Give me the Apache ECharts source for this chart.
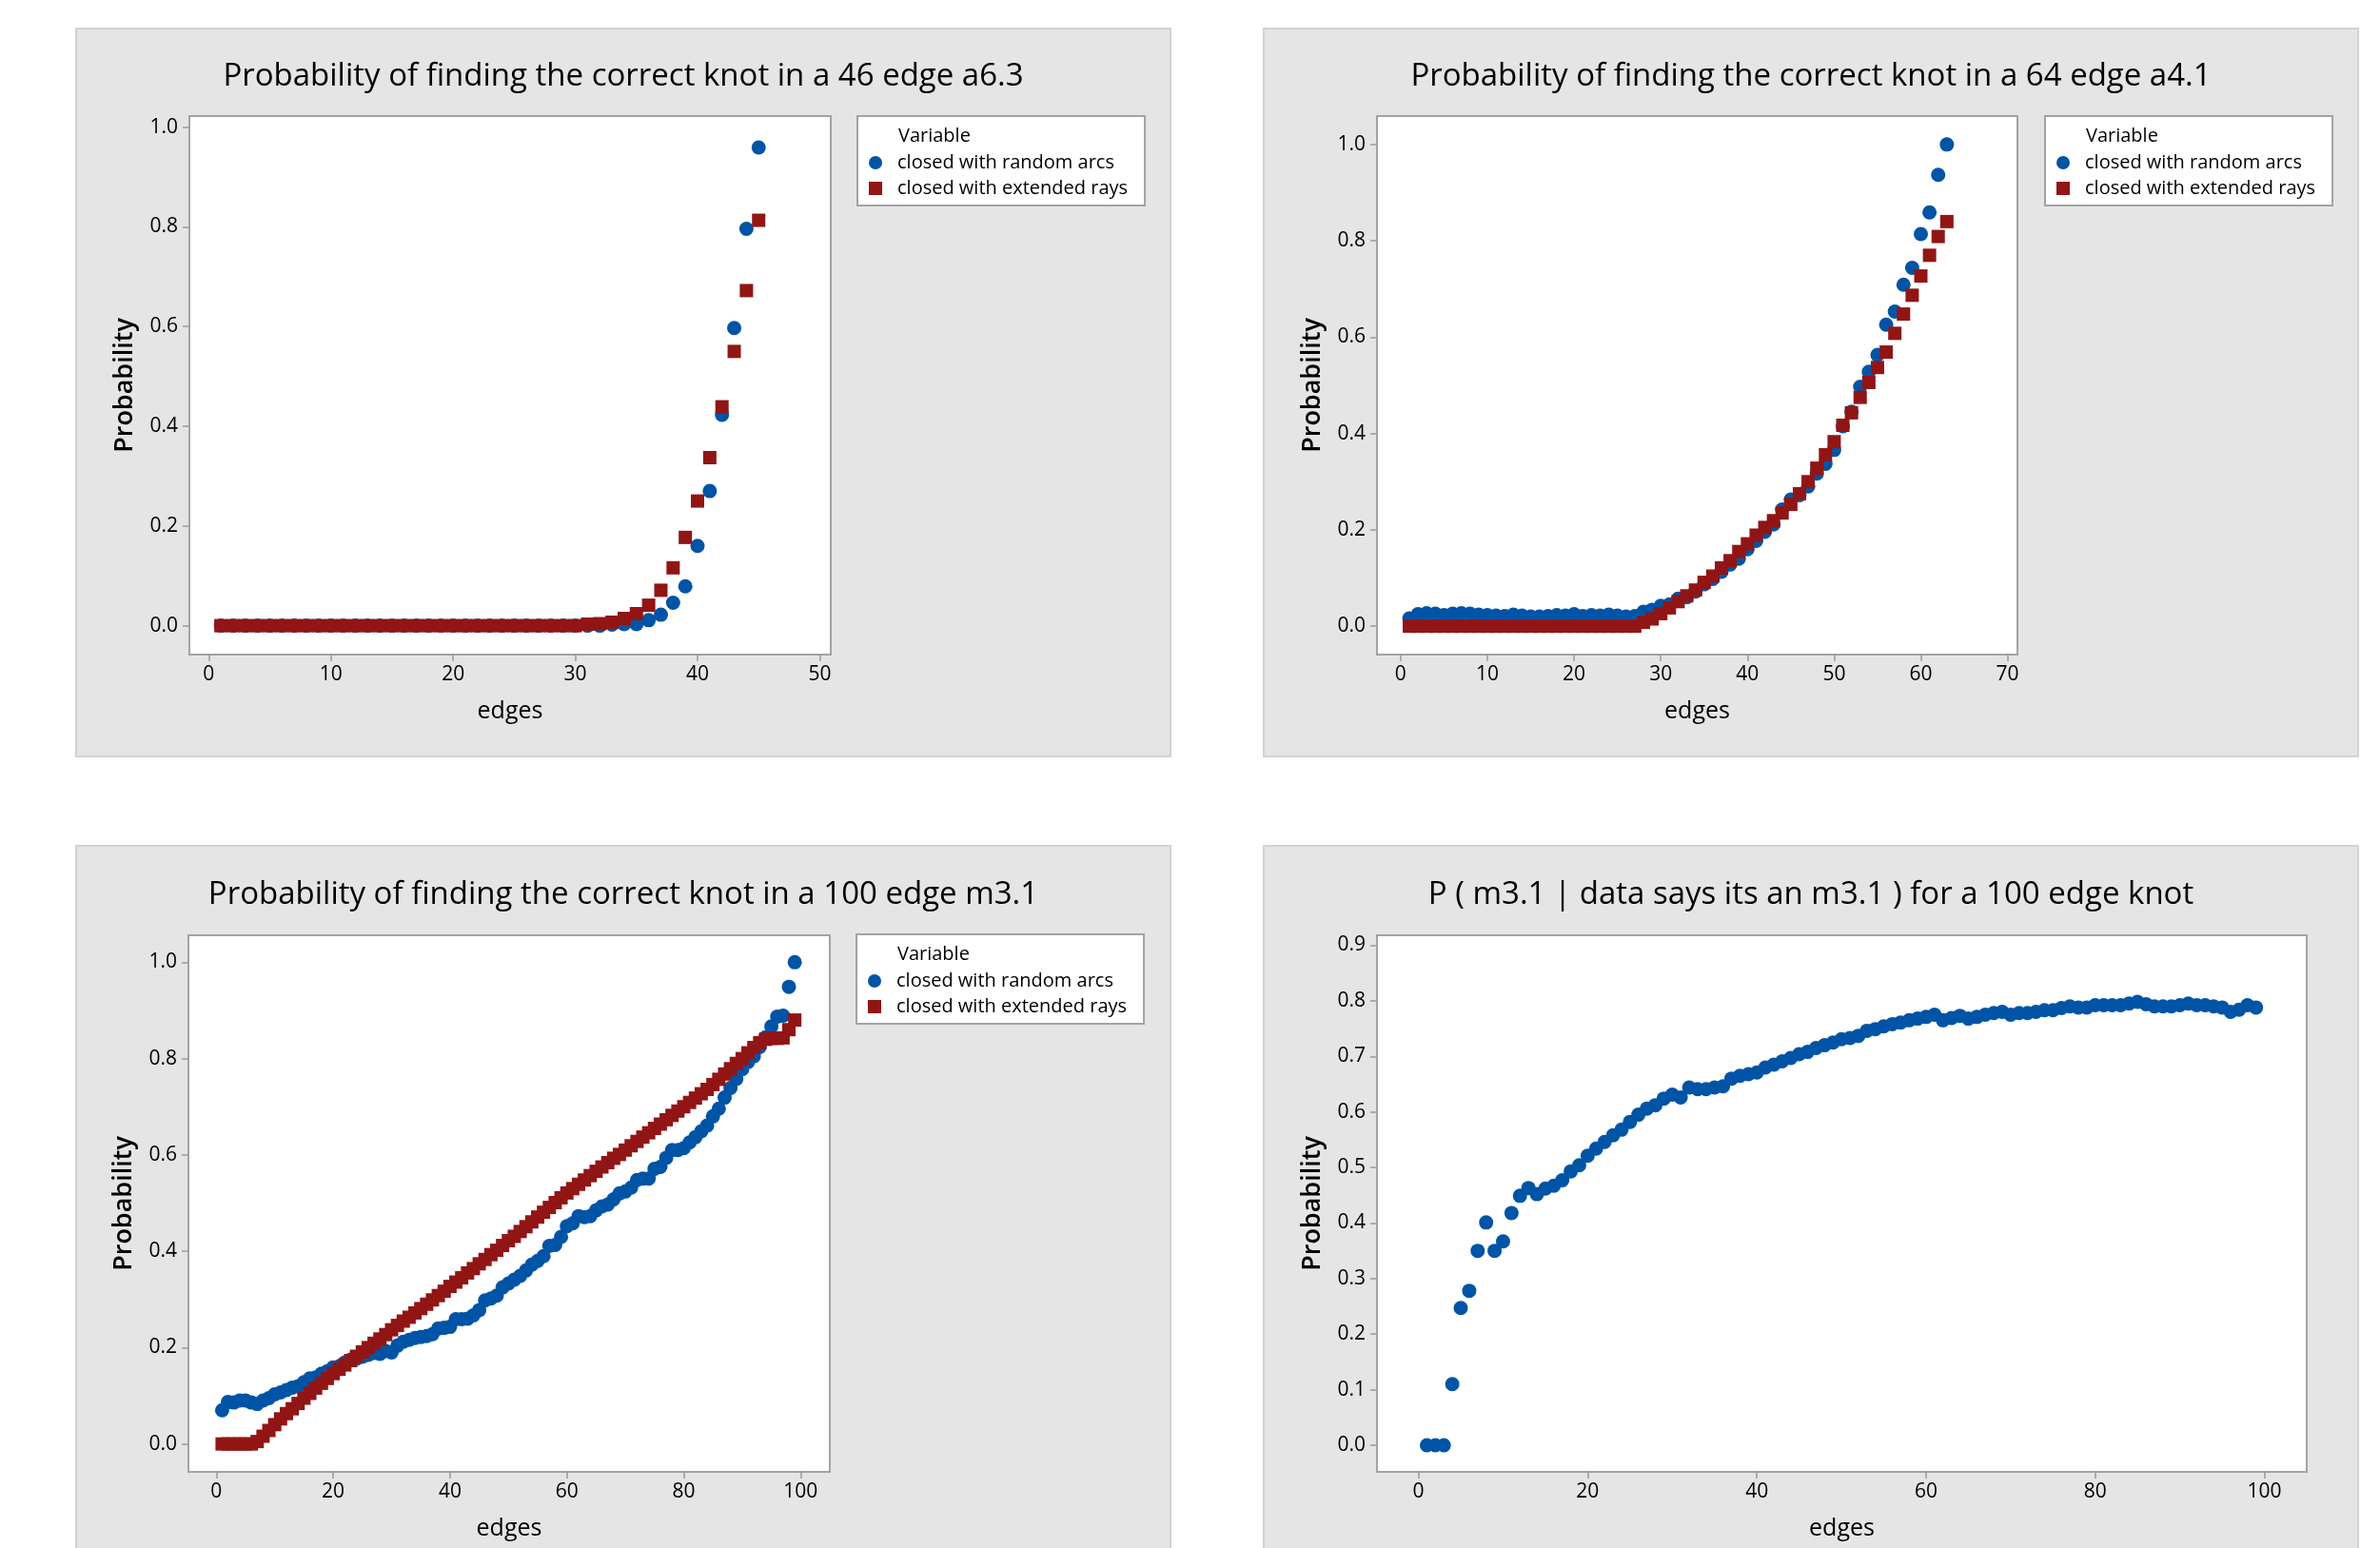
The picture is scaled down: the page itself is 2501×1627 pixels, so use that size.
<!DOCTYPE html>
<html><head><meta charset="utf-8">
<script src="https://cdn.jsdelivr.net/npm/echarts@6/dist/echarts.min.js"></script>
<style>html,body{margin:0;padding:0;background:#fff}#c{width:2501px;height:1627px}</style>
</head><body><div id="c"></div>
<script>
// ---------------- data ----------------
const chartTitles = [
  'Probability of finding the correct knot in a 46 edge a6.3',
  'Probability of finding the correct knot in a 64 edge a4.1',
  'Probability of finding the correct knot in a 100 edge m3.1',
  'P ( m3.1 | data says its an m3.1 ) for a 100 edge knot'
];
const legendNames = ['closed with random arcs', 'closed with extended rays'];
const legendTitle = 'Variable';
const xName = 'edges';
const yName = 'Probability';

// 46 edge a6.3 (edges 1..45)
const a63Arcs = [0,0,0,0,0,0,0,0,0,0, 0,0,0,0,0,0,0,0,0,0, 0,0,0,0,0,0,0,0,0,0,
  0,0,0.002,0.003,0.003,0.011,0.022,0.046,0.079,0.160, 0.270,0.423,0.597,0.796,0.959];
const a63Rays = [0,0,0,0,0,0,0,0,0,0, 0,0,0,0,0,0,0,0,0,0, 0,0,0,0,0,0,0,0,0,0,
  0.003,0.004,0.007,0.0145,0.024,0.041,0.071,0.116,0.177,0.250, 0.337,0.439,0.550,0.672,0.813];

// 64 edge a4.1 (edges 1..63)
const a41Arcs = [0.016,0.025,0.027,0.026,0.023,0.026,0.027,0.026,0.024,0.023,
  0.022,0.021,0.024,0.022,0.020,0.020,0.021,0.023,0.022,0.025,
  0.021,0.023,0.022,0.024,0.022,0.020,0.021,0.030,0.034,0.042,
  0.045,0.057,0.060,0.072,0.087,0.098,0.113,0.128,0.140,0.160,
  0.177,0.196,0.211,0.242,0.263,0.272,0.290,0.317,0.337,0.366,
  0.415,0.445,0.497,0.528,0.563,0.626,0.653,0.709,0.744,0.814,
  0.859,0.937,1.000];
const a41Rays = [0,0,0,0,0,0,0,0,0,0, 0,0,0,0,0,0,0,0,0,0, 0,0,0,0,0,0,0,
  0.008,0.015,0.026, 0.038,0.051,0.063,0.075,0.091,0.104,0.121,0.136,0.155,0.171,
  0.189,0.205,0.219,0.235,0.253,0.275,0.300,0.328,0.356,0.383,
  0.417,0.443,0.475,0.506,0.537,0.569,0.608,0.648,0.687,0.727,
  0.770,0.809,0.840];

// 100 edge m3.1 (edges 1..99)
const m31Arcs = [0.070,0.087,0.086,0.090,0.090,0.086,0.083,0.090,0.095,0.103,
  0.107,0.112,0.117,0.120,0.128,0.136,0.138,0.146,0.151,0.159,
  0.161,0.169,0.175,0.177,0.181,0.185,0.189,0.187,0.193,0.190,
  0.204,0.212,0.216,0.220,0.222,0.224,0.228,0.240,0.241,0.243,
  0.259,0.259,0.260,0.267,0.278,0.298,0.302,0.308,0.325,0.333,
  0.341,0.349,0.360,0.372,0.380,0.390,0.411,0.413,0.430,0.452,
  0.458,0.473,0.471,0.473,0.485,0.493,0.497,0.508,0.520,0.524,
  0.532,0.548,0.551,0.551,0.571,0.575,0.594,0.610,0.610,0.614,
  0.626,0.637,0.649,0.661,0.680,0.696,0.719,0.739,0.758,0.778,
  0.793,0.805,0.824,0.844,0.867,0.887,0.889,0.949,1.000];
const m31Rays = [0,0,0,0,0,0,0.005,0.016,0.028,0.040,
  0.052,0.063,0.073,0.084,0.095,0.105,0.116,0.126,0.136,0.146,
  0.155,0.164,0.173,0.182,0.191,0.200,0.209,0.218,0.227,0.237,
  0.246,0.255,0.263,0.272,0.281,0.290,0.299,0.308,0.317,0.327,
  0.336,0.345,0.355,0.364,0.374,0.383,0.393,0.402,0.412,0.422,
  0.431,0.441,0.451,0.461,0.471,0.481,0.491,0.501,0.511,0.521,
  0.530,0.539,0.548,0.557,0.566,0.575,0.584,0.593,0.601,0.610,
  0.619,0.628,0.637,0.646,0.655,0.664,0.673,0.682,0.691,0.700,
  0.709,0.718,0.727,0.736,0.746,0.757,0.768,0.779,0.790,0.800,
  0.812,0.823,0.833,0.840,0.842,0.842,0.843,0.860,0.880];

// P(m3.1 | data says m3.1), 100 edge knot (edges 1..99)
const m31Posterior = [0,0,0,0.110,0.247,0.278,0.350,0.401,0.350,0.367,
  0.418,0.449,0.463,0.452,0.462,0.467,0.477,0.493,0.504,0.521,
  0.534,0.546,0.558,0.568,0.582,0.595,0.606,0.612,0.624,0.631,
  0.626,0.644,0.641,0.641,0.644,0.646,0.660,0.665,0.668,0.671,
  0.680,0.685,0.691,0.697,0.704,0.708,0.715,0.720,0.725,0.731,
  0.733,0.737,0.746,0.749,0.754,0.758,0.761,0.765,0.768,0.771,
  0.775,0.765,0.769,0.773,0.768,0.771,0.775,0.778,0.780,0.775,
  0.778,0.778,0.780,0.783,0.783,0.787,0.790,0.788,0.788,0.792,
  0.792,0.792,0.792,0.795,0.798,0.794,0.790,0.790,0.790,0.792,
  0.795,0.792,0.792,0.790,0.788,0.780,0.784,0.792,0.788];

const xTicks1 = [0,10,20,30,40,50];
const xTicks2 = [0,10,20,30,40,50,60,70];
const xTicks3 = [0,20,40,60,80,100];
const yTicksA = [0,0.2,0.4,0.6,0.8,1.0];
const yTicksB = [0,0.1,0.2,0.3,0.4,0.5,0.6,0.7,0.8,0.9];

// ---------------- layout / style ----------------
const BLUE = '#0054a6', RED = '#921515';
const FONT = "'Open Sans', 'Noto Sans', sans-serif";
const panels = [
  {bg:[80,30,1150,765], grid:{left:199,top:122,width:674,height:566}, x:[-1.58,50.9], y:[-0.058,1.022], xt:xTicks1, yt:yTicksA, legend:{left:901,top:122}, titleX:655, titleY:64},
  {bg:[1328,30,1150,765], grid:{left:1447,top:122,width:673,height:566}, x:[-2.73,71.14], y:[-0.059,1.059], xt:xTicks2, yt:yTicksA, legend:{left:2149,top:122}, titleX:1903, titleY:64},
  {bg:[80,889,1150,800], grid:{left:198,top:983,width:674,height:564}, x:[-4.77,105.0], y:[-0.058,1.056], xt:xTicks3, yt:yTicksA, legend:{left:900,top:982}, titleX:655, titleY:924},
  {bg:[1328,889,1150,800], grid:{left:1447,top:983,width:977,height:564}, x:[-4.9,105.0], y:[-0.048,0.918], xt:xTicks3, yt:yTicksB, legend:null, titleX:1903, titleY:924}
];
const seriesData = [
  [a63Arcs, a63Rays],
  [a41Arcs, a41Rays],
  [m31Arcs, m31Rays],
  [m31Posterior]
];

function pts(arr){ return arr.map((v,i)=>[i+1, v]); }

const grids = [], xAxes = [], yAxes = [], series = [], titles = [], legends = [], graphics = [];
panels.forEach((p, k) => {
  graphics.push({type:'rect', z:-100, shape:{x:p.bg[0], y:p.bg[1], width:p.bg[2], height:p.bg[3]},
    style:{fill:'#e5e5e5', stroke:'#d2d2d2', lineWidth:2}});
  grids.push(Object.assign({show:true, backgroundColor:'#ffffff', borderColor:'#a3a3a3', borderWidth:2}, p.grid));
  xAxes.push({type:'value', gridIndex:k, min:p.x[0], max:p.x[1], position:'bottom',
    name:xName, nameLocation:'middle', nameGap:47,
    nameTextStyle:{fontSize:25, color:'#000', fontFamily:FONT},
    axisLine:{show:false, onZero:false}, splitLine:{show:false},
    axisTick:{show:true, inside:false, length:7, lineStyle:{color:'#9a9a9a', width:1.5}, customValues:p.xt},
    axisLabel:{fontSize:21, color:'#000', margin:11, fontFamily:FONT, customValues:p.xt}});
  yAxes.push({type:'value', gridIndex:k, min:p.y[0], max:p.y[1], position:'left',
    name:yName, nameLocation:'middle', nameGap:54, nameRotate:90,
    nameTextStyle:{fontSize:27, fontWeight:600, color:'#000', fontFamily:FONT},
    axisLine:{show:false, onZero:false}, splitLine:{show:false},
    axisTick:{show:true, inside:false, length:7, lineStyle:{color:'#9a9a9a', width:1.5}, customValues:p.yt},
    axisLabel:{fontSize:21, color:'#000', margin:12, fontFamily:FONT, customValues:p.yt,
      formatter:(v)=>v.toFixed(1)}});
  titles.push({text:chartTitles[k], left:p.titleX, top:p.titleY, textAlign:'center', padding:0,
    textStyle:{fontSize:33, fontWeight:500, color:'#000', fontFamily:FONT, lineHeight:34}});
  const sd = seriesData[k];
  sd.forEach((arr, j) => {
    series.push({type:'scatter', name: sd.length>1 ? legendNames[j] : 'P(m3.1)', xAxisIndex:k, yAxisIndex:k,
      data: pts(arr), symbol: j===0 ? 'circle' : 'rect', symbolSize: j===0 ? 15 : 14,
      itemStyle:{color: j===0 ? BLUE : RED, opacity:1}, emphasis:{disabled:true}, silent:true});
  });
  if (p.legend) {
    legends.push({left:p.legend.left, top:p.legend.top, orient:'vertical',
      padding:[39, 18, 8, 12], backgroundColor:'#ffffff', borderColor:'#a3a3a3', borderWidth:2,
      itemWidth:14, itemHeight:14, itemGap:7, selectedMode:false,
      data:[{name:legendNames[0], icon:'circle'}, {name:legendNames[1], icon:'rect'}],
      textStyle:{fontSize:20, color:'#000', fontFamily:FONT, lineHeight:20, padding:[0,0,0,11]}});
    titles.push({text:legendTitle, left:p.legend.left+43, top:p.legend.top+11, padding:0,
      textStyle:{fontSize:20, fontWeight:'normal', color:'#000', fontFamily:FONT, lineHeight:20}});
  }
});

const chart = echarts.init(document.getElementById('c'), null, {renderer:'canvas'});
chart.setOption({
  animation:false,
  backgroundColor:'#ffffff',
  textStyle:{fontFamily:FONT},
  graphic:{elements:graphics},
  title:titles,
  legend:legends,
  grid:grids,
  xAxis:xAxes,
  yAxis:yAxes,
  series:series
});
</script></body></html>
